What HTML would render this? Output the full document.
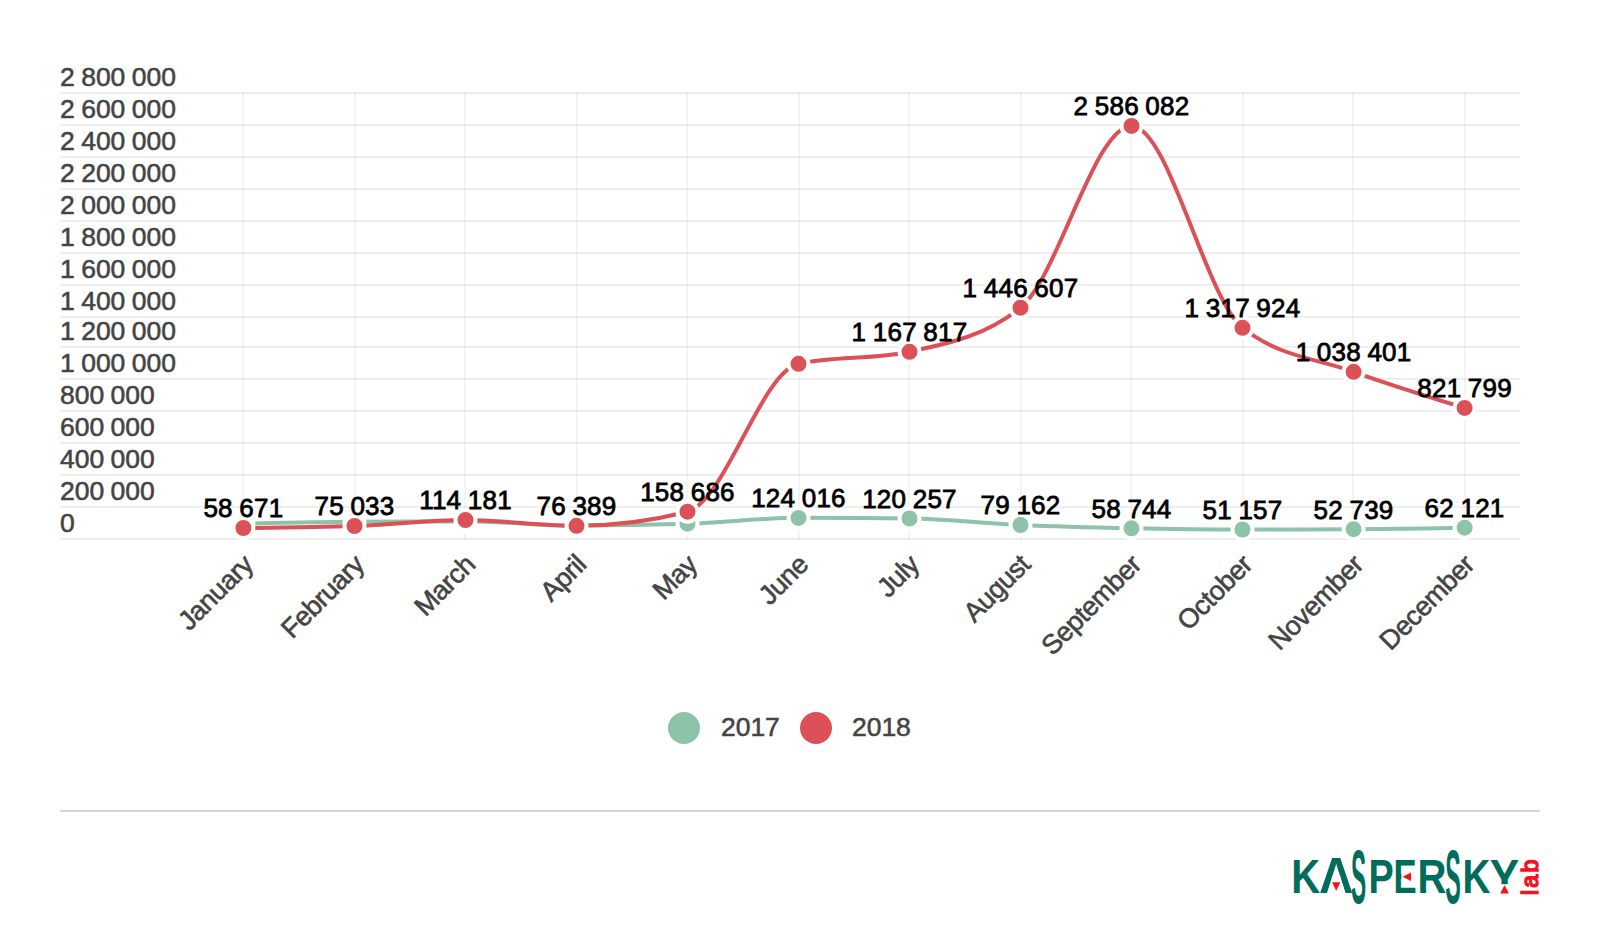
<!DOCTYPE html>
<html lang="en"><head><meta charset="utf-8"><title>Chart</title>
<style>
html,body{margin:0;padding:0;background:#fff}
body{width:1600px;height:944px;overflow:hidden;position:relative}
svg{display:block}
text{font-family:"Liberation Sans", sans-serif;font-size:26.5px;letter-spacing:-.05px;word-spacing:-.8px}
.ax{fill:#444;stroke:#444;stroke-width:.55px}
.xl text{font-size:27px;letter-spacing:-.5px;word-spacing:0;stroke-width:.6px}
.vl{fill:#000;stroke:#000;stroke-width:.8px;text-anchor:middle}
.vl text{font-size:26px;letter-spacing:.24px;word-spacing:-1px}
#logo{position:absolute;left:0;top:0;margin:0;white-space:nowrap;font:bold 48.4px/1 "Liberation Sans", sans-serif;color:#006d5c}
#logo span{display:inline-block;width:0;transform-origin:0 0}
.lab{font-size:23.2px;letter-spacing:2.2px;word-spacing:0;fill:#f5131f;stroke:#f5131f;stroke-width:1.5px}
</style></head><body>
<svg width="1600" height="944" viewBox="0 0 1600 944">
<rect width="1600" height="944" fill="#fff"/>
<g fill="#000" shape-rendering="crispEdges">
<g fill-opacity="0.065">
<rect x="60" y="92" width="1460" height="2"/>
<rect x="60" y="124" width="1460" height="2"/>
<rect x="60" y="156" width="1460" height="2"/>
<rect x="60" y="188" width="1460" height="2"/>
<rect x="60" y="220" width="1460" height="2"/>
<rect x="60" y="252" width="1460" height="2"/>
<rect x="60" y="284" width="1460" height="2"/>
<rect x="60" y="316" width="1460" height="2"/>
<rect x="60" y="346" width="1460" height="2"/>
<rect x="60" y="378" width="1460" height="2"/>
<rect x="60" y="410" width="1460" height="2"/>
<rect x="60" y="442" width="1460" height="2"/>
<rect x="60" y="474" width="1460" height="2"/>
<rect x="60" y="506" width="1460" height="2"/>
<rect x="60" y="538" width="1460" height="2"/>
</g><g fill-opacity="0.045">
<rect x="242" y="92" width="2" height="448"/>
<rect x="354" y="92" width="2" height="448"/>
<rect x="464" y="92" width="2" height="448"/>
<rect x="576" y="92" width="2" height="448"/>
<rect x="686" y="92" width="2" height="448"/>
<rect x="798" y="92" width="2" height="448"/>
<rect x="908" y="92" width="2" height="448"/>
<rect x="1020" y="92" width="2" height="448"/>
<rect x="1130" y="92" width="2" height="448"/>
<rect x="1242" y="92" width="2" height="448"/>
<rect x="1352" y="92" width="2" height="448"/>
<rect x="1464" y="92" width="2" height="448"/>
</g></g>
<g class="ax">
<text x="60" y="86">2 800 000</text>
<text x="60" y="118">2 600 000</text>
<text x="60" y="150">2 400 000</text>
<text x="60" y="182">2 200 000</text>
<text x="60" y="214">2 000 000</text>
<text x="60" y="246">1 800 000</text>
<text x="60" y="278">1 600 000</text>
<text x="60" y="310">1 400 000</text>
<text x="60" y="340">1 200 000</text>
<text x="60" y="372">1 000 000</text>
<text x="60" y="404">800 000</text>
<text x="60" y="436">600 000</text>
<text x="60" y="468">400 000</text>
<text x="60" y="500">200 000</text>
<text x="60" y="532">0</text>
</g>
<g class="ax xl" text-anchor="end">
<text transform="translate(254.6,566.2) rotate(-45)">January</text>
<text transform="translate(365.7,566.2) rotate(-45)">February</text>
<text transform="translate(476.7,566.2) rotate(-45)">March</text>
<text transform="translate(587.7,566.2) rotate(-45)">April</text>
<text transform="translate(698.7,566.2) rotate(-45)">May</text>
<text transform="translate(809.7,566.2) rotate(-45)">June</text>
<text transform="translate(920.7,566.2) rotate(-45)">July</text>
<text transform="translate(1031.7,566.2) rotate(-45)">August</text>
<text transform="translate(1142.7,566.2) rotate(-45)">September</text>
<text transform="translate(1253.7,566.2) rotate(-45)">October</text>
<text transform="translate(1364.8,566.2) rotate(-45)">November</text>
<text transform="translate(1475.8,566.2) rotate(-45)">December</text>
</g>
<path d="M243.45,523.70C280.45,522.85 317.46,522.00 354.46,521.80C391.46,521.60 428.47,521.50 465.47,521.50C502.47,521.50 539.48,525.50 576.48,525.50C613.48,525.50 650.49,524.90 687.49,523.70C724.49,522.50 761.50,517.87 798.50,517.87C835.50,517.87 872.51,518.07 909.51,518.47C946.51,518.87 983.52,523.37 1020.52,525.01C1057.52,526.64 1094.53,527.51 1131.53,528.25C1168.53,529.00 1205.54,529.46 1242.54,529.46C1279.54,529.46 1316.55,529.38 1353.55,529.21C1390.55,529.04 1427.56,528.38 1464.56,527.72" fill="none" stroke="#8dc3a8" stroke-width="4" stroke-linecap="round" stroke-linejoin="round"/>
<g fill="#8dc3a8" stroke="#fff" stroke-width="4">
<circle cx="243.4" cy="523.7" r="10"/>
<circle cx="354.5" cy="521.8" r="10"/>
<circle cx="465.5" cy="521.5" r="10"/>
<circle cx="576.5" cy="525.5" r="10"/>
<circle cx="687.5" cy="523.7" r="10"/>
<circle cx="798.5" cy="517.9" r="10"/>
<circle cx="909.5" cy="518.5" r="10"/>
<circle cx="1020.5" cy="525.0" r="10"/>
<circle cx="1131.5" cy="528.3" r="10"/>
<circle cx="1242.5" cy="529.5" r="10"/>
<circle cx="1353.6" cy="529.2" r="10"/>
<circle cx="1464.6" cy="527.7" r="10"/>
</g>
<path d="M243.45,528.00C280.45,527.67 317.46,527.33 354.46,526.00C391.46,524.67 428.47,520.00 465.47,520.00C502.47,520.00 539.48,525.80 576.48,525.80C613.48,525.80 650.49,521.10 687.49,511.70C724.49,502.30 761.50,371.80 798.50,363.80C835.50,355.80 872.51,359.80 909.51,351.80C946.51,343.80 983.52,337.10 1020.52,307.70C1057.52,278.30 1094.53,125.90 1131.53,125.90C1168.53,125.90 1205.54,298.47 1242.54,327.80C1279.54,357.13 1316.55,358.45 1353.55,371.80C1390.55,385.15 1427.56,396.52 1464.56,407.90" fill="none" stroke="#dc5057" stroke-width="4" stroke-linecap="round" stroke-linejoin="round"/>
<g fill="#dc5057" stroke="#fff" stroke-width="4">
<circle cx="243.4" cy="528.0" r="10"/>
<circle cx="354.5" cy="526.0" r="10"/>
<circle cx="465.5" cy="520.0" r="10"/>
<circle cx="576.5" cy="525.8" r="10"/>
<circle cx="687.5" cy="511.7" r="10"/>
<circle cx="798.5" cy="363.8" r="10"/>
<circle cx="909.5" cy="351.8" r="10"/>
<circle cx="1020.5" cy="307.7" r="10"/>
<circle cx="1131.5" cy="125.9" r="10"/>
<circle cx="1242.5" cy="327.8" r="10"/>
<circle cx="1353.6" cy="371.8" r="10"/>
<circle cx="1464.6" cy="407.9" r="10"/>
</g>
<g class="vl">
<text x="798.5" y="507.2">124 016</text>
<text x="909.5" y="507.8">120 257</text>
<text x="1020.5" y="514.3">79 162</text>
<text x="1131.5" y="517.6">58 744</text>
<text x="1242.5" y="518.8">51 157</text>
<text x="1353.6" y="518.5">52 739</text>
<text x="1464.6" y="517.0">62 121</text>
<text x="243.4" y="517.3">58 671</text>
<text x="354.5" y="515.3">75 033</text>
<text x="465.5" y="509.3">114 181</text>
<text x="576.5" y="515.1">76 389</text>
<text x="687.5" y="501.0">158 686</text>
<text x="909.5" y="341.1">1 167 817</text>
<text x="1020.5" y="297.0">1 446 607</text>
<text x="1131.5" y="115.2">2 586 082</text>
<text x="1242.5" y="317.1">1 317 924</text>
<text x="1353.6" y="361.1">1 038 401</text>
<text x="1464.6" y="397.2">821 799</text>
</g>
<circle cx="684" cy="728" r="16" fill="#8dc3a8"/><circle cx="816" cy="728" r="16" fill="#dc5057"/>
<g class="ax"><text x="721" y="736">2017</text><text x="852" y="736">2018</text></g>
<rect x="60" y="810" width="1480" height="2" fill="#d6d6d6"/>
<text class="lab" transform="translate(1537.5,895) rotate(-90)">lab</text>
</svg>
<div id="logo"><span style="transform:translate(1291.32px,852.43px) scale(0.8264,1.0000)">K</span><span style="transform:translate(1319.01px,851.57px) scale(0.9853,1.0210)">A</span><span style="transform:translate(1351.04px,839.10px) scale(0.4691,1.5583)">S</span><span style="transform:translate(1368.47px,852.43px) scale(0.7812,1.0000)">P</span><span style="transform:translate(1393.57px,852.43px) scale(0.7182,1.0000)">E</span><span style="transform:translate(1417.42px,852.43px) scale(0.8277,1.0000)">R</span><span style="transform:translate(1445.22px,839.10px) scale(0.4829,1.5583)">S</span><span style="transform:translate(1462.61px,852.43px) scale(0.7976,1.0000)">K</span><span style="transform:translate(1489.75px,852.43px) scale(0.9125,1.0000)">Y</span></div>
<svg width="1600" height="944" viewBox="0 0 1600 944" style="position:absolute;left:0;top:0"><g fill="#fff"><polygon points="1327,894 1332.3,876 1340.1,876 1345.8,894"/><rect x="1401.4" y="871.5" width="15" height="10"/><rect x="1498" y="884.2" width="13" height="10"/></g><g fill="#f5131f"><polygon points="1332,882.3 1340.4,882.3 1336.2,890.7"/><polygon points="1402.5,876.7 1411,872.5 1411,881"/><polygon points="1504.5,885 1500.2,893.4 1508.9,893.4"/></g></svg>
</body></html>
